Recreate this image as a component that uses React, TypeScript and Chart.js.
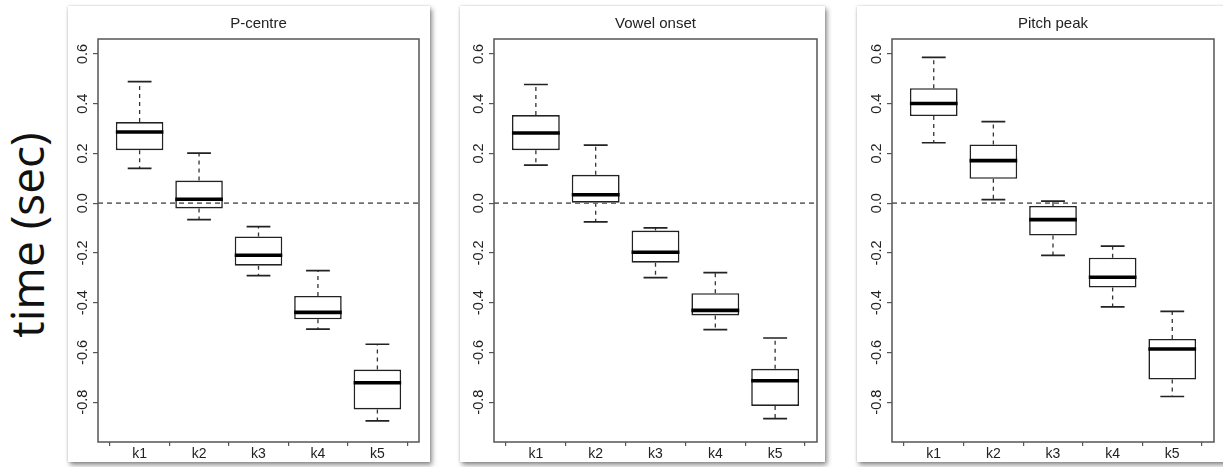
import React, { useEffect, useRef } from "react";
import { Chart, registerables } from "chart.js";

Chart.register(...registerables);

// ---------------- data ----------------
const categories = ["k1", "k2", "k3", "k4", "k5"];
const yTicks = [-0.8, -0.6, -0.4, -0.2, 0.0, 0.2, 0.4, 0.6];
const yMin = -0.96;
const yMax = 0.66;
const xMin = 0.3;
const xMax = 5.7;
const referenceLine = 0;

// P-centre
const pcentreLow = [0.14, -0.066, -0.291, -0.506, -0.875];
const pcentreQ1 = [0.213, -0.021, -0.251, -0.467, -0.829];
const pcentreMed = [0.286, 0.016, -0.209, -0.439, -0.722];
const pcentreQ3 = [0.326, 0.091, -0.134, -0.373, -0.669];
const pcentreHigh = [0.489, 0.201, -0.094, -0.271, -0.567];

// Vowel onset
const vowelLow = [0.153, -0.075, -0.299, -0.508, -0.866];
const vowelQ1 = [0.213, 0.002, -0.239, -0.451, -0.815];
const vowelMed = [0.282, 0.034, -0.197, -0.431, -0.714];
const vowelQ3 = [0.354, 0.114, -0.11, -0.362, -0.666];
const vowelHigh = [0.477, 0.233, -0.099, -0.279, -0.542];

// Pitch peak
const pitchLow = [0.243, 0.014, -0.21, -0.417, -0.777];
const pitchQ1 = [0.35, 0.098, -0.13, -0.339, -0.709];
const pitchMed = [0.401, 0.171, -0.066, -0.298, -0.586];
const pitchQ3 = [0.462, 0.236, -0.011, -0.219, -0.546];
const pitchHigh = [0.586, 0.328, 0.008, -0.173, -0.435];

const yAxisTitle = "time (sec)";

type Stats = { low: number[]; q1: number[]; med: number[]; q3: number[]; high: number[] };

const panels: {
  title: string;
  stats: Stats;
  left: number;
  width: number;
  axisW: number;
  rightPad: number;
}[] = [
  { title: "P-centre", stats: { low: pcentreLow, q1: pcentreQ1, med: pcentreMed, q3: pcentreQ3, high: pcentreHigh }, left: 68, width: 362, axisW: 30, rightPad: 11 },
  { title: "Vowel onset", stats: { low: vowelLow, q1: vowelQ1, med: vowelMed, q3: vowelQ3, high: vowelHigh }, left: 460, width: 365, axisW: 34, rightPad: 8 },
  { title: "Pitch peak", stats: { low: pitchLow, q1: pitchQ1, med: pitchMed, q3: pitchQ3, high: pitchHigh }, left: 857, width: 370, axisW: 35, rightPad: 13 },
];

const CARD_TOP = 6;
const CARD_H = 456;
const FONT = "'Liberation Sans', Arial, Helvetica, sans-serif";
const INK = "#222";

function Panel({ title, stats, left, width, axisW, rightPad }: (typeof panels)[number]) {
  const ref = useRef<HTMLCanvasElement | null>(null);

  useEffect(() => {
    const canvas = ref.current;
    if (!canvas) return;

    const boxPlugin = {
      id: "boxExtras",
      afterDatasetsDraw(chart: any) {
        const { ctx, chartArea } = chart;
        const xs = chart.scales.x;
        const ys = chart.scales.y;
        const meta = chart.getDatasetMeta(0);
        ctx.save();
        categories.forEach((_, i) => {
          const el: any = meta.data[i];
          const cx = xs.getPixelForValue(i + 1);
          const half = el.width / 2;
          const yLow = ys.getPixelForValue(stats.low[i]);
          const yQ1 = ys.getPixelForValue(stats.q1[i]);
          const yQ3 = ys.getPixelForValue(stats.q3[i]);
          const yHigh = ys.getPixelForValue(stats.high[i]);
          const yMed = ys.getPixelForValue(stats.med[i]);
          // whiskers (dashed)
          ctx.strokeStyle = "#333";
          ctx.lineWidth = 1.3;
          ctx.setLineDash([4, 4]);
          ctx.beginPath();
          ctx.moveTo(cx, yQ3);
          ctx.lineTo(cx, yHigh);
          ctx.moveTo(cx, yQ1);
          ctx.lineTo(cx, yLow);
          ctx.stroke();
          // caps
          ctx.setLineDash([]);
          ctx.strokeStyle = INK;
          ctx.lineWidth = 1.7;
          ctx.beginPath();
          ctx.moveTo(cx - half / 2, yHigh);
          ctx.lineTo(cx + half / 2, yHigh);
          ctx.moveTo(cx - half / 2, yLow);
          ctx.lineTo(cx + half / 2, yLow);
          ctx.stroke();
          // median
          ctx.strokeStyle = "#000";
          ctx.lineWidth = 3.6;
          ctx.beginPath();
          ctx.moveTo(cx - half, yMed);
          ctx.lineTo(cx + half, yMed);
          ctx.stroke();
        });
        // reference dashed line
        const y0 = ys.getPixelForValue(referenceLine);
        ctx.strokeStyle = "#6f6f6f";
        ctx.lineWidth = 1.7;
        ctx.setLineDash([5, 4]);
        ctx.beginPath();
        ctx.moveTo(chartArea.left, y0);
        ctx.lineTo(chartArea.right, y0);
        ctx.stroke();
        ctx.restore();
      },
      afterDraw(chart: any) {
        const { ctx, chartArea } = chart;
        const ys = chart.scales.y;
        ctx.save();
        // frame
        ctx.strokeStyle = "#555";
        ctx.lineWidth = 1.5;
        ctx.strokeRect(chartArea.left, chartArea.top, chartArea.right - chartArea.left, chartArea.bottom - chartArea.top);
        // rotated y tick labels (R style)
        ctx.fillStyle = INK;
        ctx.font = `14.5px ${FONT}`;
        ctx.textAlign = "center";
        ctx.textBaseline = "middle";
        yTicks.forEach((v) => {
          const y = ys.getPixelForValue(v);
          ctx.save();
          ctx.translate(chartArea.left - 15, y);
          ctx.rotate(-Math.PI / 2);
          ctx.fillText(v.toFixed(1), 0, 0);
          ctx.restore();
        });
        ctx.restore();
      },
    };

    const chart = new Chart(canvas, {
      type: "bar",
      data: {
        datasets: [
          {
            data: categories.map((_, i) => ({ x: i + 1, y: [stats.q1[i], stats.q3[i]] })) as any,
            backgroundColor: "#ffffff",
            borderColor: INK,
            borderWidth: 1.6,
            borderSkipped: false,
            barPercentage: 1,
            categoryPercentage: 0.8,
          },
        ],
      },
      options: {
        responsive: false,
        animation: false,
        devicePixelRatio: 1,
        layout: { padding: { top: 0, right: rightPad, left: 0, bottom: 0 } },
        plugins: {
          legend: { display: false },
          tooltip: { enabled: false },
          title: {
            display: true,
            text: title,
            fullSize: false,
            color: INK,
            font: { family: FONT, size: 15, weight: "normal" as any, lineHeight: 1.2 },
            padding: { top: 9, bottom: 6 },
          },
        },
        scales: {
          x: {
            type: "linear",
            min: xMin,
            max: xMax,
            offset: false,
            afterBuildTicks: (s: any) => {
              s.ticks = categories.map((_, i) => ({ value: i + 1 }));
            },
            afterFit: (s: any) => {
              s.height = 20;
            },
            ticks: {
              color: INK,
              font: { family: FONT, size: 14 },
              padding: 0,
              maxRotation: 0,
              autoSkip: false,
              callback: (v: any) => categories[Math.round(Number(v)) - 1] ?? "",
            },
            grid: { display: true, drawOnChartArea: false, drawTicks: true, tickLength: 4, color: "#555", lineWidth: 1.2 },
            border: { display: false },
          },
          y: {
            type: "linear",
            min: yMin,
            max: yMax,
            afterBuildTicks: (s: any) => {
              s.ticks = yTicks.map((v) => ({ value: v }));
            },
            afterFit: (s: any) => {
              s.width = axisW;
            },
            ticks: { display: false },
            grid: { display: true, drawOnChartArea: false, drawTicks: true, tickLength: 5, color: "#555", lineWidth: 1.2 },
            border: { display: false },
          },
        },
      },
      plugins: [boxPlugin],
    });

    return () => chart.destroy();
  }, []);

  return (
    <div
      style={{
        position: "absolute",
        left,
        top: CARD_TOP,
        width,
        height: CARD_H,
        background: "#fff",
        boxShadow: "0 0 2px rgba(0,0,0,0.18), 2px 3px 5px rgba(0,0,0,0.45)",
      }}
    >
      <canvas ref={ref} width={width} height={CARD_H} style={{ display: "block", width, height: CARD_H }} />
    </div>
  );
}

export default function App() {
  return (
    <div
      style={{
        position: "absolute",
        left: 0,
        top: 0,
        width: 1223,
        height: 467,
        overflow: "hidden",
        background: "#fff",
      }}
    >
      <div
        style={{
          position: "absolute",
          left: 26 - 150,
          top: 235 - 23,
          width: 300,
          height: 46,
          lineHeight: "46px",
          fontSize: 46,
          fontFamily: "'Open Sans', sans-serif",
          color: "#111",
          textAlign: "center",
          transform: "rotate(-90deg)",
          whiteSpace: "nowrap",
        }}
      >
        {yAxisTitle}
      </div>
      {panels.map((p) => (
        <Panel key={p.title} {...p} />
      ))}
    </div>
  );
}
